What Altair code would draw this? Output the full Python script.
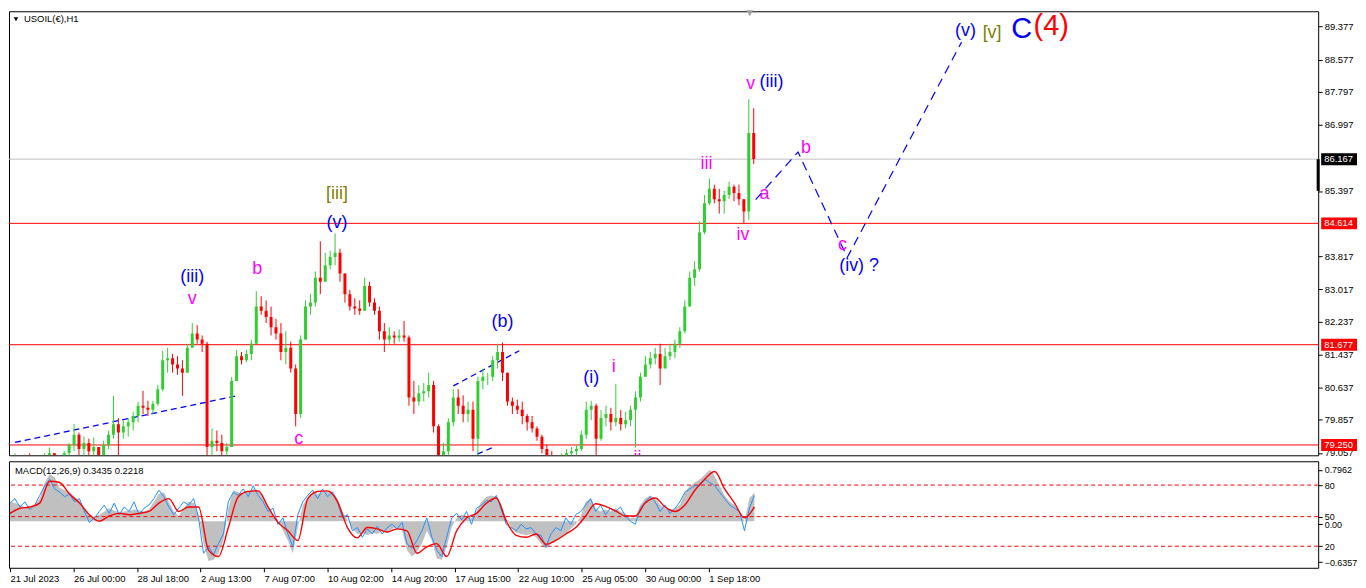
import json
import altair as alt
import pandas as pd

FONT = "Liberation Sans"

# ---------------- price bars (one bar per 5 chart-hours of horizontal space) ----------------
bar_high = [79.05, 79.00, 79.02, 79.05, 78.98, 79.00, 79.05, 79.19, 79.05, 79.00, 79.10,
            79.30, 79.76, 79.55, 79.45, 79.40, 79.43, 79.20, 79.35, 79.60, 80.44,
            79.90, 79.84, 79.90, 80.05, 80.30, 80.56, 80.32, 80.32, 80.70, 81.53,
            81.60, 81.45, 81.40, 81.30, 81.70, 82.20, 82.15, 81.90, 81.75, 79.65,
            79.60, 79.50, 79.30, 80.90, 81.55, 81.50, 81.55, 81.80, 82.97, 82.85,
            82.75, 82.60, 82.30, 82.20, 82.00, 81.75, 81.20, 81.90, 82.75, 82.90,
            83.45, 84.18, 83.90, 83.95, 84.37, 84.00, 83.40, 83.00, 82.80, 82.75,
            83.30, 83.20, 82.80, 82.60, 82.20, 82.10, 82.00, 82.05, 82.25, 81.90,
            80.80, 80.70, 80.75, 81.00, 80.80, 79.75, 79.30, 79.90, 80.60, 80.60,
            80.45, 80.30, 80.30, 80.90, 81.10, 81.00, 81.40, 81.70, 81.73, 81.00,
            80.40, 80.35, 80.30, 80.00, 79.95, 79.70, 79.50, 79.25, 79.10, 79.00,
            79.05, 79.15, 79.20, 79.25, 79.60, 80.30, 80.32, 80.25, 80.10, 80.20,
            80.15, 80.73, 80.10, 80.05, 80.20, 80.55, 81.00, 81.40, 81.50, 81.60,
            81.70, 81.60, 81.70, 81.80, 82.10, 82.75, 83.45, 83.70, 84.66, 85.30,
            85.70, 85.55, 85.45, 85.40, 85.62, 85.55, 85.55, 85.20, 87.62, 87.40]
bar_low = [78.70, 78.75, 78.70, 78.80, 78.70, 78.65, 78.80, 78.85, 78.80, 78.75, 78.85,
           78.95, 79.10, 79.00, 78.95, 79.00, 78.95, 78.85, 78.95, 79.15, 79.40,
           78.95, 79.40, 79.45, 79.60, 79.80, 80.00, 79.95, 80.00, 80.20, 80.55,
           81.00, 81.00, 80.95, 80.44, 81.00, 81.60, 81.70, 81.50, 78.90, 78.90,
           79.10, 78.95, 78.80, 79.20, 80.80, 81.20, 81.25, 81.30, 81.70, 82.40,
           82.20, 81.90, 81.80, 81.30, 81.20, 81.00, 79.70, 79.90, 81.80, 82.40,
           82.60, 82.90, 83.20, 83.50, 83.60, 83.20, 82.70, 82.50, 82.40, 82.40,
           82.50, 82.60, 82.40, 81.80, 81.50, 81.70, 81.70, 81.75, 81.75, 80.20,
           80.00, 80.20, 80.30, 80.40, 79.55, 78.90, 78.85, 79.00, 79.70, 80.00,
           79.80, 79.80, 79.10, 79.00, 80.60, 80.70, 80.80, 81.10, 80.80, 80.20,
           80.00, 80.00, 79.75, 79.60, 79.55, 79.35, 79.05, 78.85, 78.80, 78.70,
           78.75, 78.85, 78.90, 78.95, 79.10, 79.40, 79.85, 79.00, 79.35, 79.70,
           79.60, 79.70, 79.60, 79.65, 79.70, 79.19, 80.30, 80.90, 81.10, 81.20,
           80.70, 81.10, 81.30, 81.35, 81.60, 81.95, 82.60, 83.10, 83.45, 84.35,
           85.05, 85.10, 84.85, 84.85, 85.20, 85.15, 85.05, 84.62, 84.70, 86.05]
bar_close = [78.90, 78.85, 78.95, 78.90, 78.80, 78.90, 79.00, 79.05, 78.90, 78.95, 79.05,
             79.25, 79.50, 79.15, 79.30, 79.10, 79.20, 79.00, 79.25, 79.50, 79.75,
             79.55, 79.70, 79.80, 79.95, 80.20, 80.15, 80.10, 80.25, 80.60, 81.30,
             81.35, 81.20, 81.10, 81.00, 81.60, 81.95, 81.80, 81.70, 79.20, 79.35,
             79.30, 79.10, 79.20, 80.80, 81.40, 81.30, 81.45, 81.70, 82.60, 82.50,
             82.35, 82.10, 81.95, 81.50, 81.60, 81.10, 80.00, 81.80, 82.60, 82.70,
             83.30, 83.20, 83.60, 83.80, 83.90, 83.40, 82.90, 82.60, 82.55, 82.50,
             83.10, 82.70, 82.50, 82.00, 81.80, 81.90, 81.85, 81.90, 81.85, 80.40,
             80.30, 80.50, 80.55, 80.70, 79.70, 79.00, 79.10, 79.80, 80.40, 80.20,
             80.00, 80.10, 79.40, 80.80, 80.90, 80.90, 81.30, 81.50, 81.00, 80.30,
             80.20, 80.10, 79.95, 79.80, 79.65, 79.45, 79.15, 78.95, 78.90, 78.85,
             78.95, 79.05, 79.10, 79.15, 79.50, 80.10, 80.20, 79.40, 79.90, 80.00,
             79.80, 79.90, 79.75, 79.85, 80.10, 80.40, 80.90, 81.20, 81.35, 81.45,
             81.10, 81.40, 81.50, 81.70, 82.00, 82.60, 83.30, 83.50, 84.40, 85.10,
             85.45, 85.20, 85.15, 85.30, 85.50, 85.35, 85.20, 84.90, 86.80, 86.17]
first_open = 78.85
bar_step = 5

# ---------------- MACD panel ----------------
macd_hist = [0.30, 0.28, 0.25, 0.22, 0.22, 0.25, 0.35, 0.60, 0.73, 0.68, 0.52,
             0.48, 0.45, 0.38, 0.32, 0.20, 0.10, 0.06, 0.10, 0.15, 0.20,
             0.16, 0.14, 0.15, 0.16, 0.18, 0.17, 0.15, 0.18, 0.30, 0.42,
             0.45, 0.30, 0.15, 0.08, 0.20, 0.30, 0.28, 0.10, -0.35, -0.62,
             -0.60, -0.50, -0.30, 0.20, 0.48, 0.45, 0.42, 0.45, 0.50, 0.48,
             0.40, 0.22, 0.10, 0.02, -0.15, -0.30, -0.50, -0.10, 0.25, 0.35,
             0.45, 0.42, 0.45, 0.47, 0.46, 0.35, 0.15, 0.02, -0.12, -0.20,
             -0.18, -0.22, -0.18, -0.20, -0.15, -0.18, -0.12, -0.10, -0.15, -0.45,
             -0.55, -0.48, -0.35, -0.15, -0.30, -0.58, -0.60, -0.40, -0.10, 0.05,
             0.10, 0.08, 0.05, 0.15, 0.30, 0.38, 0.40, 0.38, 0.25, 0.05,
             -0.10, -0.18, -0.20, -0.22, -0.20, -0.25, -0.35, -0.43, -0.35, -0.30,
             -0.25, -0.20, -0.12, -0.05, 0.08, 0.30, 0.35, 0.20, 0.15, 0.18,
             0.15, 0.20, 0.15, 0.12, 0.05, 0.05, 0.25, 0.35, 0.40, 0.35,
             0.25, 0.20, 0.18, 0.20, 0.25, 0.45, 0.55, 0.60, 0.65, 0.72,
             0.80, 0.70, 0.55, 0.40, 0.30, 0.25, 0.15, 0.00, 0.35, 0.45]
macd_fast = [0.28, 0.35, 0.22, 0.30, 0.18, 0.25, 0.40, 0.55, 0.65, 0.50, 0.45,
             0.38, 0.42, 0.30, 0.35, 0.15, -0.02, 0.05, 0.15, 0.25, 0.12,
             0.28, 0.10, 0.22, 0.15, 0.30, 0.10, 0.20, 0.25, 0.35, 0.48,
             0.38, 0.22, 0.10, 0.20, 0.30, 0.25, 0.35, 0.05, -0.50, -0.40,
             -0.52, -0.35, -0.20, 0.30, 0.45, 0.40, 0.50, 0.38, 0.55, 0.40,
             0.30, 0.15, 0.20, -0.05, 0.05, -0.20, -0.40, 0.10, 0.30, 0.40,
             0.48, 0.35, 0.50, 0.38, 0.45, 0.30, 0.05, 0.10, -0.15, -0.10,
             -0.25, -0.12, -0.20, -0.08, -0.20, -0.10, -0.05, -0.12, -0.02, -0.35,
             -0.42, -0.30, -0.15, 0.05, -0.25, -0.45, -0.55, -0.25, 0.05, 0.12,
             0.02, 0.15, -0.05, 0.20, 0.25, 0.32, 0.30, 0.40, 0.18, -0.05,
             -0.10, -0.15, -0.05, -0.12, -0.10, -0.20, -0.22, -0.40, -0.20, -0.10,
             -0.15, 0.05, -0.05, 0.10, 0.15, 0.25, 0.35, 0.15, 0.25, 0.10,
             0.20, 0.15, 0.22, 0.08, 0.00, -0.05, 0.20, 0.30, 0.38, 0.30,
             0.15, 0.25, 0.12, 0.20, 0.30, 0.45, 0.50, 0.55, 0.55, 0.65,
             0.60, 0.55, 0.45, 0.35, 0.25, 0.20, 0.15, -0.15, 0.20, 0.40]
macd_signal = [0.12, 0.20, 0.22, 0.28, 0.62, 0.60, 0.42, 0.28, 0.10, 0.00,
               0.08, 0.12, 0.10, 0.12, 0.15, 0.28, 0.35, 0.15, 0.22, 0.22,
               -0.45, -0.55, -0.10, 0.38, 0.46, 0.47, 0.22, -0.02, -0.15, -0.30,
               0.35, 0.46, 0.47, 0.30, -0.10, -0.26, -0.10, -0.12, -0.17, -0.12,
               -0.15, -0.50, -0.40, -0.35, -0.55, -0.15, 0.05, 0.12, 0.28, 0.36,
               0.00, -0.22, -0.25, -0.20, -0.36, -0.30, -0.20, -0.10, 0.08, 0.27,
               0.23, 0.16, 0.08, 0.08, 0.28, 0.36, 0.22, 0.15, 0.25, 0.48,
               0.65, 0.77, 0.50, 0.28, 0.05, 0.22]
signal_step = 10
macd_levels = [0.56, 0.07, -0.39]
macd_level_labels = ["80", "50", "20"]
macd_extremes = [0.7962, -0.6357]
zero_label_pos = -0.05

# ---------------- levels, ticks, labels ----------------
price_ticks = [89.377, 88.577, 87.797, 86.997, 85.397, 83.817, 83.017,
               82.237, 81.437, 80.637, 79.857, 79.057]
red_levels = [84.614, 81.677, 79.250]
current_price = 86.167
spread_low = 85.40
time_labels = ["21 Jul 2023", "26 Jul 00:00", "28 Jul 18:00", "2 Aug 13:00",
               "7 Aug 07:00", "10 Aug 02:00", "14 Aug 20:00", "17 Aug 15:00",
               "22 Aug 10:00", "25 Aug 05:00", "30 Aug 00:00", "1 Sep 18:00"]
tick_step = 64

trend_group = ["t1", "t1", "t2", "t2", "t3", "t3"]
trend_h = [1, 226, 446, 513, 461, 486]
trend_p = [79.31, 80.44, 80.68, 81.53, 78.93, 79.19]

proj_h = [753, 796, 846, 962]
proj_p = [85.19, 86.34, 83.79, 89.00]

MAG, BLUE, OLIVE, RED = "#FF00FF", "#0000FF", "#808000", "#FF0000"
wave_text = ["(iii)", "v", "b", "c", "[iii]", "(v)", "(b)", "(i)", "i", "iii",
             "v", "(iii)", "iv", "a", "b", "c", "(iv) ?", "(v)", "[v]", "C", "(4)"]
wave_h = [181, 181, 247, 289, 328, 328, 496, 586, 609, 703,
          748, 769, 740, 762, 804, 841, 858, 966, 993, 1023, 1053]
wave_p = [83.31, 82.78, 83.50, 79.40, 85.33, 84.61, 82.22, 80.87, 81.14, 86.06,
          87.98, 88.03, 84.34, 85.33, 86.44, 84.08, 83.57, 89.26, 89.21, 89.31, 89.38]
wave_color = [BLUE, MAG, MAG, MAG, OLIVE, BLUE, BLUE, BLUE, MAG, MAG,
              MAG, BLUE, MAG, MAG, MAG, MAG, BLUE, BLUE, OLIVE, BLUE, RED]
wave_size = [18, 18, 18, 18, 18, 18, 18, 18, 18, 18,
             18, 18, 18, 18, 18, 18, 18, 18, 18, 29, 29]
low_label_text = ["ii"]
low_label_h = [633]
low_label_p = [79.14]

box_prices = [current_price] + red_levels
box_colors = ["#000000", "#FF0000", "#FF0000", "#FF0000"]

# ---------------- layout ----------------
W, H_MAIN, H_MACD = 1315, 446, 107
X_DOMAIN = [0, 1319]
P_DOMAIN = [79.0, 89.747]
M_DOMAIN = [-0.725, 0.93]

hs = [1 + bar_step * i for i in range(len(bar_close))]
opens = [first_open] + bar_close[:-1]
bars = pd.DataFrame({"h": hs, "o": opens, "hi": bar_high, "lo": bar_low, "c": bar_close})
bars["col"] = ["#32CD32" if c >= o else "#FF0000" for o, c in zip(opens, bar_close)]

macd_df = pd.DataFrame({"h": hs, "v": macd_hist, "f": macd_fast, "z": [0.0] * len(hs)})
sig_df = pd.DataFrame({"h": [1 + signal_step * k for k in range(len(macd_signal))], "s": macd_signal})

xs = alt.Scale(domain=X_DOMAIN, nice=False, zero=False)
ps = alt.Scale(domain=P_DOMAIN, nice=False, zero=False)
ms = alt.Scale(domain=M_DOMAIN, nice=False, zero=False)
X = alt.X("h:Q", scale=xs, axis=None, title=None)

price_axis = alt.Axis(orient="right", values=price_ticks, format=".3f", labelOverlap=False,
                      tickSize=4, tickColor="black", labelColor="black", labelFont=FONT,
                      labelFontSize=9.5, labelPadding=2, domain=False, grid=False,
                      title=None, labelFlush=False)

def PY(field):
    return alt.Y(field, scale=ps, axis=price_axis, title=None)

red_rules = alt.Chart(pd.DataFrame({"p": red_levels})).mark_rule(color="#FF0000", strokeWidth=1).encode(
    y=PY("p:Q"))
cur_rule = alt.Chart(pd.DataFrame({"p": [current_price]})).mark_rule(color="#C0C0C0", strokeWidth=1).encode(
    y=PY("p:Q"))

wicks = alt.Chart(bars).mark_rule(strokeWidth=1, clip=True).encode(
    x=X, y=PY("lo:Q"), y2="hi:Q", color=alt.Color("col:N", scale=None))
bodies = alt.Chart(bars).mark_bar(size=3, clip=True).encode(
    x=X, y=PY("o:Q"), y2="c:Q", color=alt.Color("col:N", scale=None))

trend = alt.Chart(pd.DataFrame({"g": trend_group, "h": trend_h, "p": trend_p})).mark_line(
    color="#0000FF", strokeWidth=1.3, strokeDash=[6, 4], clip=True).encode(
    x=X, y=PY("p:Q"), detail="g:N")

proj = alt.Chart(pd.DataFrame({"k": list(range(len(proj_h))), "h": proj_h, "p": proj_p})).mark_line(
    color="#0000FF", strokeWidth=1.2, strokeDash=[9, 6]).encode(
    x=X, y=PY("p:Q"), order="k:Q")

waves = alt.Chart(pd.DataFrame({"t": wave_text, "h": wave_h, "p": wave_p,
                                "c": wave_color, "s": wave_size})).mark_text(
    font=FONT, align="center", baseline="middle").encode(
    x=X, y=PY("p:Q"), text="t:N", color=alt.Color("c:N", scale=None),
    size=alt.Size("s:Q", scale=None))

low_wave = alt.Chart(pd.DataFrame({"t": low_label_text, "h": low_label_h, "p": low_label_p})).mark_text(
    font=FONT, align="center", baseline="top", fontSize=18, color=MAG, clip=True).encode(
    x=X, y=PY("p:Q"), text="t:N")

BOX = "M-1,-0.333L1,-0.333L1,0.333L-1,0.333Z"
box_df = pd.DataFrame({"p": box_prices, "c": box_colors, "lab": [f"{v:.3f}" for v in box_prices]})
boxes = alt.Chart(box_df).mark_point(shape=BOX, filled=True, size=1296, opacity=1, strokeWidth=0).encode(
    x=alt.value(W + 21), y=PY("p:Q"), color=alt.Color("c:N", scale=None))
box_text = alt.Chart(box_df).mark_text(align="left", baseline="middle", font=FONT, fontSize=9.5,
                                       color="white").encode(
    x=alt.value(W + 6), y=PY("p:Q"), text="lab:N")
spread = alt.Chart(pd.DataFrame({"a": [current_price], "b": [spread_low]})).mark_rule(
    color="black", strokeWidth=3).encode(x=alt.value(W), y=PY("a:Q"), y2="b:Q")

title_df = pd.DataFrame({"t": ["USOIL(€),H1"]})
title_tri = alt.Chart(title_df).mark_point(shape="triangle-down", filled=True, color="black",
                                           size=22, opacity=1).encode(x=alt.value(7), y=alt.value(8))
title_txt = alt.Chart(title_df).mark_text(align="left", baseline="middle", font=FONT,
                                          fontSize=9.5, color="black").encode(
    x=alt.value(15), y=alt.value(8), text="t:N")
shift_mark = alt.Chart(pd.DataFrame({"h": [hs[-1] - 4]})).mark_point(
    shape="triangle-down", filled=True, color="#A0A0A0", size=45, opacity=1).encode(
    x=X, y=alt.value(2))

main = alt.layer(red_rules, cur_rule, trend, wicks, bodies, proj, waves, low_wave,
                 spread, boxes, box_text, title_tri, title_txt, shift_mark).properties(
    width=W, height=H_MAIN)

# ---------------- MACD layers ----------------
lab_expr = json.dumps(time_labels) + "[round((datum.value - 1) / %d)]" % tick_step
time_axis = alt.Axis(values=[1 + tick_step * k for k in range(len(time_labels))], labelExpr=lab_expr,
                     tickSize=4, tickColor="black", labelColor="black", labelFont=FONT,
                     labelFontSize=9.5, labelAlign="left", labelBaseline="top", labelPadding=2,
                     labelFlush=False, labelOverlap=False, domain=False, grid=False, title=None)

macd_ticks = [macd_extremes[0]] + macd_levels[:2] + [zero_label_pos] + macd_levels[2:] + [macd_extremes[1]]
cond = ""
for v, l in zip(macd_levels, macd_level_labels):
    cond += "datum.value == %s ? '%s' : " % (v, l)
cond += "datum.value == %s ? '0.00' : format(datum.value, '.4f')" % zero_label_pos
macd_axis = alt.Axis(orient="right", values=macd_ticks, labelExpr=cond, labelOverlap=False,
                     tickSize=4, tickColor="black", labelColor="black", labelFont=FONT,
                     labelFontSize=9, labelPadding=2, domain=False, grid=False, title=None,
                     labelFlush=False)

def MX():
    return alt.X("h:Q", scale=xs, axis=time_axis, title=None)

def MY(field):
    return alt.Y(field, scale=ms, axis=macd_axis, title=None)

hist = alt.Chart(macd_df).mark_area(color="#C0C0C0", clip=True).encode(
    x=MX(), y=MY("v:Q"), y2="z:Q")
lvl = alt.Chart(pd.DataFrame({"v": macd_levels})).mark_rule(
    color="#FF0000", strokeWidth=1, strokeDash=[4, 3]).encode(y=MY("v:Q"))
fast = alt.Chart(macd_df).mark_line(color="#1E90FF", strokeWidth=1, clip=True).encode(
    x=MX(), y=MY("f:Q"))
sig = alt.Chart(sig_df).mark_line(color="#FF0000", strokeWidth=1.4, clip=True,
                                  interpolate="monotone").encode(
    x=MX(), y=MY("s:Q"))
macd_title = alt.Chart(pd.DataFrame({"t": ["MACD(12,26,9) 0.3435 0.2218"]})).mark_text(
    align="left", baseline="middle", font=FONT, fontSize=9.5, color="black").encode(
    x=alt.value(6), y=alt.value(10), text="t:N")

macd = alt.layer(hist, lvl, fast, sig, macd_title).properties(width=W, height=H_MACD)

chart = alt.vconcat(main, macd, spacing=2).properties(
    padding=0, background="white").configure_view(stroke="black", strokeWidth=1)

chart.save("out.html", embed_options={"renderer": "svg", "actions": False})
